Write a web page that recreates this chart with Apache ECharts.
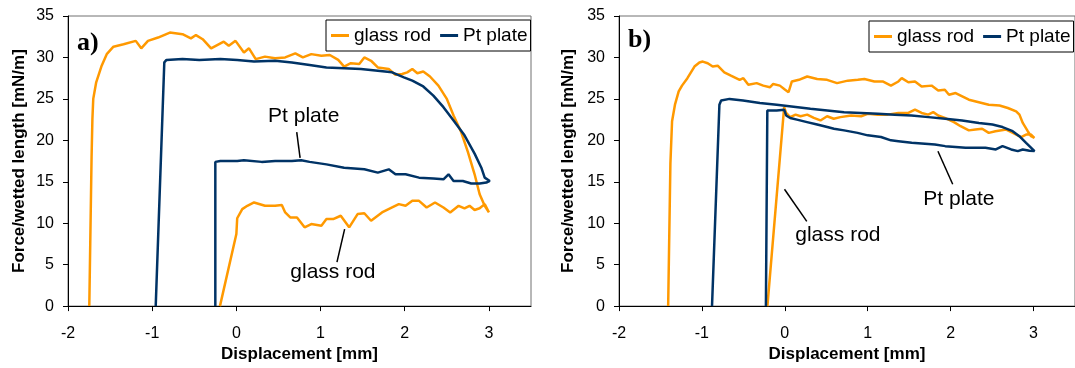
<!DOCTYPE html>
<html><head><meta charset="utf-8">
<script src="https://cdn.jsdelivr.net/npm/echarts@6/dist/echarts.min.js"></script>
<style>html,body{margin:0;padding:0;background:#fff}#c{width:1075px;height:368px}</style>
</head><body><div id="c"></div>
<script>
// ---------- data ----------
const xTicks = [-2, -1, 0, 1, 2, 3];
const yTicks = [0, 5, 10, 15, 20, 25, 30, 35];
const seriesNames = ['glass rod', 'Pt plate'];
const xTitle = 'Displacement [mm]';
const yTitle = 'Force/wetted length [mN/m]';
const panelLabels = ['a)', 'b)'];

// panel a) glass rod (advancing then receding)
const glassRodA = [
[-1.747,0],[-1.72,18],[-1.71,22.6],[-1.70,25.0],[-1.665,27.0],[-1.60,29.0],[-1.54,30.4],[-1.46,31.3],[-1.34,31.6],
[-1.195,32.0],[-1.13,31.1],[-1.05,32.0],[-0.93,32.4],[-0.79,33.0],[-0.64,32.8],[-0.54,32.3],[-0.48,32.7],[-0.40,32.2],
[-0.30,31.1],[-0.15,31.9],[-0.09,31.4],[-0.01,32.0],[0.09,30.6],[0.15,31.1],[0.23,29.8],[0.34,30.1],[0.46,29.9],
[0.58,30.0],[0.70,30.5],[0.79,30.0],[0.89,30.4],[1.01,30.2],[1.11,30.3],[1.21,29.7],[1.28,28.9],[1.36,29.3],
[1.46,29.2],[1.52,30.0],[1.60,29.6],[1.68,28.8],[1.81,28.6],[1.89,27.9],[1.97,28.0],[2.03,28.2],[2.09,28.6],
[2.15,28.1],[2.22,28.3],[2.30,27.7],[2.40,26.6],[2.50,25.0],[2.58,23.0],[2.67,21.0],[2.75,18.6],[2.83,15.9],
[2.89,13.5],[2.95,12.1],[3.0,11.3],
[2.95,12.3],[2.89,11.8],[2.83,11.6],[2.77,12.1],[2.71,11.8],[2.64,12.1],[2.54,11.3],[2.46,11.9],[2.36,12.5],
[2.26,11.9],[2.17,12.7],[2.09,12.7],[2.01,12.1],[1.93,12.3],[1.85,11.9],[1.73,11.3],[1.60,10.3],[1.52,11.2],
[1.44,11.1],[1.34,9.5],[1.24,10.9],[1.15,10.5],[1.07,10.5],[1.01,9.7],[0.89,9.9],[0.81,9.5],[0.72,10.7],
[0.64,10.7],[0.58,11.3],[0.54,12.2],[0.46,12.1],[0.34,12.1],[0.21,12.5],[0.13,12.1],[0.07,11.7],[0.01,10.6],
[0.0,8.7],[-0.195,0]
];
// panel a) Pt plate
const ptPlateA = [
[-0.958,0],[-0.856,29.4],[-0.83,29.7],[-0.64,29.8],[-0.44,29.7],[-0.19,29.8],[0.01,29.7],[0.21,29.5],[0.46,29.6],
[0.66,29.4],[0.87,29.1],[1.07,28.8],[1.28,28.7],[1.48,28.6],[1.68,28.4],[1.85,28.2],[1.99,27.6],[2.09,27.2],
[2.22,26.5],[2.34,25.4],[2.46,24.0],[2.58,22.4],[2.71,20.6],[2.83,18.4],[2.91,16.7],[2.95,15.5],[3.01,15.1],
[2.97,14.9],[2.89,14.8],[2.79,14.8],[2.69,15.1],[2.58,15.1],[2.52,15.9],[2.46,15.3],[2.34,15.4],[2.17,15.5],
[2.01,15.9],[1.89,15.9],[1.81,16.5],[1.68,16.1],[1.52,16.5],[1.28,16.7],[1.07,17.1],[0.87,17.4],[0.77,17.6],
[0.66,17.5],[0.46,17.5],[0.30,17.4],[0.09,17.6],[0.01,17.5],[-0.19,17.5],[-0.25,17.4],[-0.25,0]
];
// panel b) glass rod
const glassRodB = [
[-1.407,0],[-1.38,17.2],[-1.36,22.3],[-1.325,24.3],[-1.28,25.9],[-1.24,26.6],[-1.175,27.5],[-1.09,28.9],[-1.03,29.4],
[-0.99,29.5],[-0.93,29.3],[-0.87,28.9],[-0.81,29.0],[-0.73,28.2],[-0.65,27.8],[-0.545,27.3],[-0.50,27.5],[-0.44,26.7],
[-0.34,26.9],[-0.26,26.6],[-0.18,26.4],[-0.14,26.8],[-0.06,26.6],[0.004,26.1],[0.045,25.8],[0.085,27.1],[0.17,27.3],
[0.27,27.7],[0.39,27.4],[0.51,27.3],[0.63,26.9],[0.76,27.2],[0.88,27.3],[0.96,27.4],[1.08,27.1],[1.18,27.1],
[1.28,26.6],[1.37,27.1],[1.41,27.5],[1.49,27.0],[1.57,27.1],[1.65,26.5],[1.77,26.6],[1.85,26.0],[1.93,26.1],
[1.98,25.5],[2.06,25.7],[2.14,25.3],[2.22,24.9],[2.34,24.6],[2.46,24.3],[2.59,24.2],[2.69,23.9],[2.79,23.5],
[2.83,23.1],[2.87,22.1],[2.93,21.1],[2.97,20.5],[3.01,20.3],
[2.97,20.7],[2.91,20.7],[2.85,20.4],[2.75,20.9],[2.67,21.3],[2.54,21.1],[2.46,20.9],[2.38,21.4],[2.30,21.3],
[2.22,21.2],[2.12,21.7],[2.04,22.2],[1.93,22.7],[1.85,23.0],[1.79,23.4],[1.73,23.1],[1.65,23.3],[1.57,23.7],
[1.49,23.3],[1.37,23.3],[1.24,23.1],[1.12,23.1],[1.00,23.2],[0.92,22.9],[0.80,23.0],[0.67,22.8],[0.59,22.6],
[0.51,22.9],[0.43,22.4],[0.35,22.7],[0.27,23.1],[0.19,22.9],[0.13,23.1],[0.065,22.8],[0.016,23.3],[-0.008,24.0],
[-0.21,0]
];
// panel b) Pt plate
const ptPlateB = [
[-0.878,0],[-0.789,24.3],[-0.768,24.8],[-0.667,25.0],[-0.504,24.8],[-0.301,24.5],[-0.098,24.3],[0.106,24.06],
[0.309,23.8],[0.512,23.6],[0.715,23.4],[0.919,23.3],[1.122,23.2],[1.325,23.1],[1.528,23.0],[1.732,22.8],[1.935,22.6],
[2.138,22.4],[2.341,22.1],[2.504,21.9],[2.626,21.6],[2.748,21.1],[2.829,20.5],[2.91,19.7],[3.012,18.7],
[2.951,18.75],[2.87,18.9],[2.81,18.7],[2.73,18.9],[2.626,19.3],[2.545,18.9],[2.42,19.1],[2.30,19.1],[2.18,19.1],
[2.06,19.2],[1.935,19.3],[1.81,19.5],[1.69,19.6],[1.53,19.7],[1.37,19.9],[1.28,20.0],[1.16,20.4],[1.0,20.6],
[0.878,20.9],[0.715,21.2],[0.593,21.4],[0.512,21.6],[0.39,21.9],[0.268,22.2],[0.146,22.5],[0.065,22.7],[0.016,23.0],
[-0.008,23.7],[-0.098,23.6],[-0.211,23.6],[-0.228,0]
];

// annotations: text position and leader line (data units)
const annotationsA = [
  {text: 'Pt plate', at: [0.80, 22.9], line: [[0.717, 20.99], [0.757, 17.88]]},
  {text: 'glass rod', at: [1.147, 4.10], line: [[1.286, 9.28], [1.195, 5.30]]}
];
const annotationsB = [
  {text: 'glass rod', at: [0.64, 8.55], line: [[-0.004, 14.1], [0.265, 10.23]]},
  {text: 'Pt plate', at: [2.10, 12.9], line: [[1.847, 18.68], [2.025, 14.70]]}
];

// ---------- chart ----------
const ORANGE = '#FF9900', NAVY = '#003366';
const FONT = '"Liberation Sans", Arial, sans-serif';
const chart = echarts.init(document.getElementById('c'), null, {renderer: 'canvas'});

function xAxisCfg(gi, nameGap) {
  return {
    type: 'value', gridIndex: gi, min: -2, max: 3.5, interval: 1,
    name: xTitle, nameLocation: 'middle', nameGap: nameGap,
    nameTextStyle: {fontFamily: FONT, fontSize: 17, fontWeight: 'bold', color: '#000'},
    axisLine: {show: true, onZero: false, lineStyle: {color: '#000', width: 1}},
    axisTick: {show: true, inside: false, length: 5, lineStyle: {color: '#000'}, customValues: xTicks},
    axisLabel: {fontFamily: FONT, fontSize: 16, color: '#000', margin: 19, customValues: xTicks},
    splitLine: {show: false}
  };
}
function yAxisCfg(gi, nameGap) {
  return {
    type: 'value', gridIndex: gi, min: 0, max: 35, interval: 5,
    name: yTitle, nameLocation: 'middle', nameGap: nameGap,
    nameTextStyle: {fontFamily: FONT, fontSize: 17, fontWeight: 'bold', color: '#000'},
    axisLine: {show: true, onZero: false, lineStyle: {color: '#000', width: 1}},
    axisTick: {show: true, inside: false, length: 5, lineStyle: {color: '#000'}, customValues: yTicks},
    axisLabel: {fontFamily: FONT, fontSize: 16, color: '#000', margin: 14, customValues: yTicks},
    splitLine: {show: false}
  };
}
function lineSeries(name, data, color, gi) {
  return {
    type: 'line', name: name, data: data, xAxisIndex: gi, yAxisIndex: gi,
    symbol: 'none', showSymbol: false, smooth: false, clip: true,
    lineStyle: {color: color, width: 2.5}, itemStyle: {color: color},
    emphasis: {disabled: true}, animation: false
  };
}
function legendCfg(left, top) {
  return {
    left: left, top: top, orient: 'horizontal', data: seriesNames,
    icon: 'rect', itemWidth: 18, itemHeight: 3, itemGap: 9,
    padding: [6, 3, 6, 5], borderColor: '#000', borderWidth: 1, backgroundColor: '#fff',
    textStyle: {fontFamily: FONT, fontSize: 19, color: '#000'},
    selectedMode: false
  };
}

chart.setOption({
  animation: false,
  backgroundColor: '#fff',
  grid: [
    {left: 68, top: 16, width: 463, height: 293, show: true, borderColor: '#707070', borderWidth: 1, backgroundColor: 'transparent'},
    {left: 619, top: 16, width: 462, height: 294, show: true, borderColor: '#707070', borderWidth: 1, backgroundColor: 'transparent'}
  ],
  xAxis: [xAxisCfg(0, 32), xAxisCfg(1, 32)],
  yAxis: [yAxisCfg(0, 40), yAxisCfg(1, 42)],
  legend: [legendCfg(326, 20), legendCfg(869, 21)],
  series: [
    lineSeries(seriesNames[0], glassRodA, ORANGE, 0),
    lineSeries(seriesNames[1], ptPlateA, NAVY, 0),
    lineSeries(seriesNames[0], glassRodB, ORANGE, 1),
    lineSeries(seriesNames[1], ptPlateB, NAVY, 1)
  ]
});

// annotations and panel labels, positioned through the chart's own scales
function annGraphics(list, gi) {
  const out = [];
  list.forEach(a => {
    const p = chart.convertToPixel({gridIndex: gi}, a.at);
    const l0 = chart.convertToPixel({gridIndex: gi}, a.line[0]);
    const l1 = chart.convertToPixel({gridIndex: gi}, a.line[1]);
    out.push({type: 'line', shape: {x1: l0[0], y1: l0[1], x2: l1[0], y2: l1[1]},
      style: {stroke: '#000', lineWidth: 1.5}, z: 100, silent: true});
    out.push({type: 'text', x: p[0], y: p[1], z: 100, silent: true,
      style: {text: a.text, fontFamily: FONT, fontSize: 21, fill: '#000', align: 'center', verticalAlign: 'middle'}});
  });
  return out;
}
const la = chart.convertToPixel({gridIndex: 0}, [-2, 35]);
const lb = chart.convertToPixel({gridIndex: 1}, [-2, 35]);
chart.setOption({
  graphic: [
    ...annGraphics(annotationsA, 0),
    ...annGraphics(annotationsB, 1),
    {type: 'text', x: la[0] + 9, y: la[1] + 27, z: 100, silent: true,
      style: {text: panelLabels[0], fontFamily: '"Liberation Serif", "Times New Roman", serif', fontWeight: 'bold', fontSize: 26, fill: '#000', align: 'left', verticalAlign: 'middle'}},
    {type: 'text', x: lb[0] + 9, y: lb[1] + 24, z: 100, silent: true,
      style: {text: panelLabels[1], fontFamily: '"Liberation Serif", "Times New Roman", serif', fontWeight: 'bold', fontSize: 26, fill: '#000', align: 'left', verticalAlign: 'middle'}}
  ]
});
</script></body></html>
